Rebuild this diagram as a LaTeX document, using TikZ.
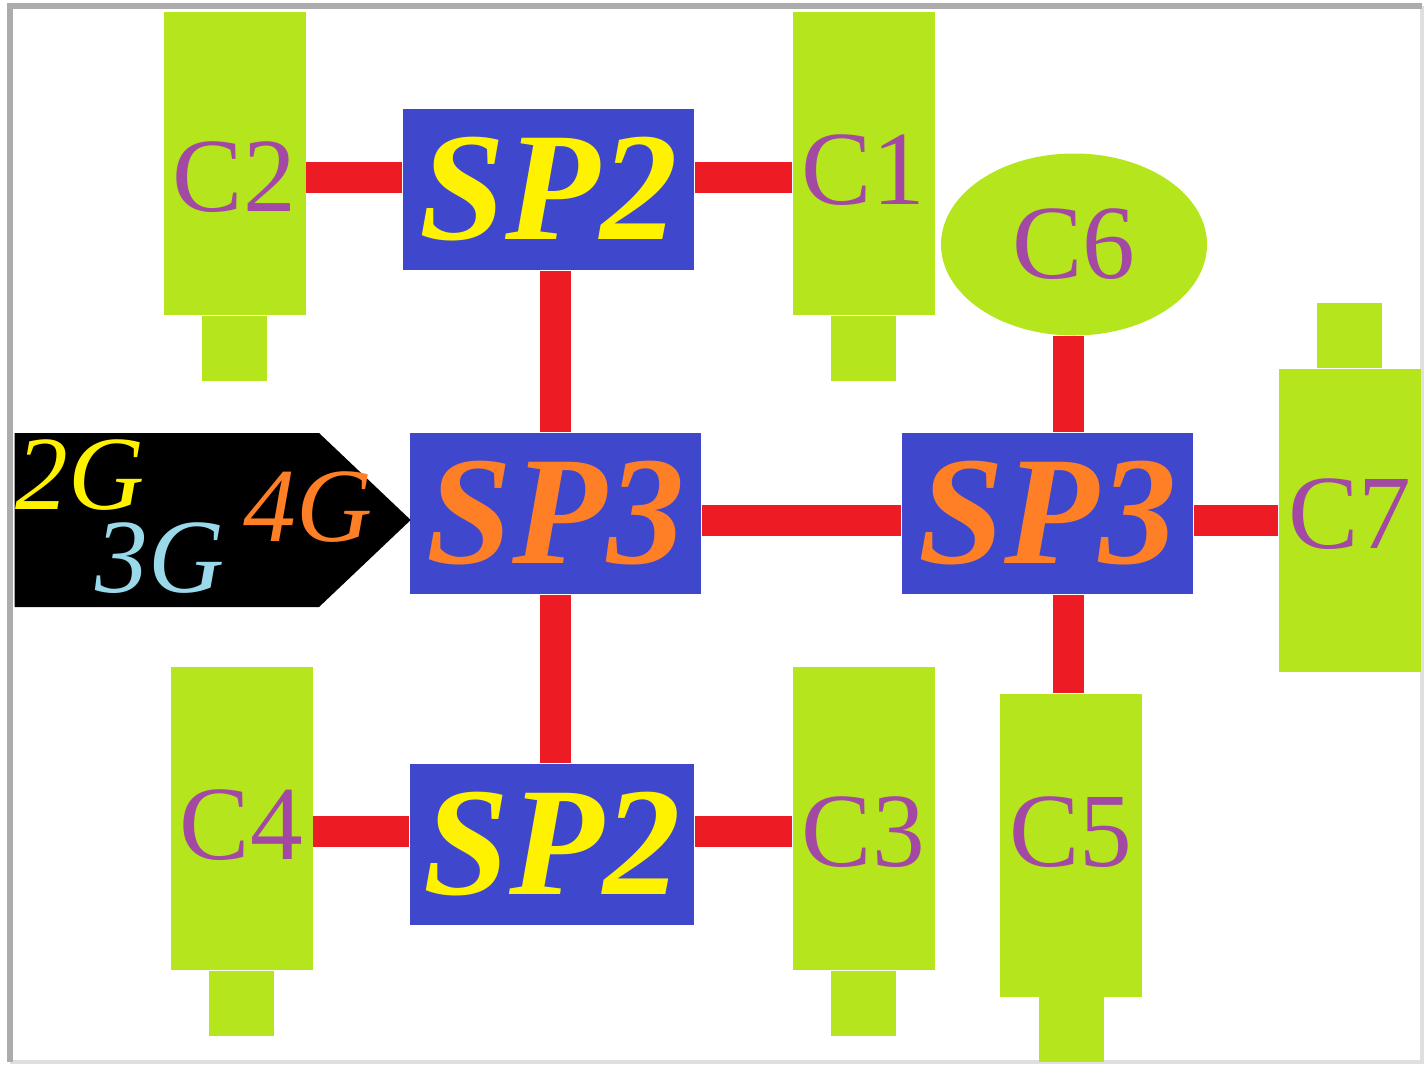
\documentclass[tikz,border=0pt]{standalone}
\usepackage{fontspec}
\setmainfont{Liberation Serif}
\usepackage{xcolor}
\usepackage{tikz}
\usetikzlibrary{shapes.geometric,shapes.symbols}

\definecolor{lime}{HTML}{B5E61D}
\definecolor{spblue}{HTML}{3F48CC}
\definecolor{linkred}{HTML}{ED1C24}
\definecolor{plum}{HTML}{A349A4}
\definecolor{gyellow}{HTML}{FFF200}
\definecolor{gorange}{HTML}{FF7F27}
\definecolor{gblue}{HTML}{99D9EA}

\begin{document}
\begin{tikzpicture}[
    cbox/.style={fill=lime,inner sep=0pt,minimum width=1.42cm,minimum height=3.03cm},
    cname/.style={text=plum,inner sep=0pt,font=\fontsize{30}{30}\selectfont},
    spbox/.style={fill=spblue,inner sep=0pt,minimum width=2.91cm,minimum height=1.61cm,
        font=\fontsize{44}{44}\selectfont\bfseries\itshape},
    gname/.style={inner sep=0pt,font=\fontsize{30}{30}\selectfont\itshape},
    link/.style={draw=linkred,line width=0.31cm}]
        \useasboundingbox (0,0) rectangle (14.24,10.64);
        \draw [gray!25,line width=0.04cm] (0.10,0.02) -- (14.22,0.02) -- (14.22,10.58);
        \draw [gray!65,line width=0.06cm] (0.10,0.02) -- (0.10,10.58) -- (14.22,10.58);
        % clients
        \node [cbox,label={[cname,yshift=-1.35mm]center:C2}] (c2) at (2.345,9.005) {};
        \node [cbox,label={[cname,yshift=-0.65mm]center:C1}] (c1) at (8.635,9.005) {};
        \node [cbox,label={[cname,yshift=-0.65mm]center:C4}] (c4) at (2.415,2.455) {};
        \node [cbox,label={[cname,yshift=-1.35mm]center:C3}] (c3) at (8.635,2.455) {};
        \node [cbox,label={[cname,yshift=1.3mm]center:C5}] (c5) at (10.71,2.19) {};
        \node [cbox,label={[cname,yshift=0.6mm]center:C7}] (c7) at (13.495,5.44) {};
        \node [ellipse,fill=lime,inner sep=0pt,minimum width=2.66cm,minimum height=1.82cm,
            cname] (c6) at (10.74,8.195) {C6};
        \foreach \c in {c2,c1,c4,c3,c5}
            \fill [lime] ([xshift=-0.325cm]\c.south) rectangle +(0.65,-0.65);
        \fill [lime] ([xshift=-0.325cm]c7.north) rectangle +(0.65,0.65);
        % service points
        \node [spbox,text=gyellow] (sp2a) at (5.485,8.745) {SP2};
        \node [spbox,text=gorange] (sp3a) at (5.555,5.505) {SP3};
        \node [spbox,text=gorange] (sp3b) at (10.475,5.505) {SP3};
        \node [spbox,text=gyellow,minimum width=2.84cm] (sp2b) at (5.52,2.195) {SP2};
        % network generations
        \node [signal,signal to=east,signal pointer angle=87,fill=black,inner sep=0pt,
            minimum width=3.96cm,minimum height=1.74cm,anchor=west] (net) at (0.14,5.44) {};
        \node [gname,text=gyellow] (g2) at (0.80,5.89) {2G};
        \node [gname,text=gblue] (g3) at (1.60,5.06) {3G};
        \node [gname,text=gorange] (g4) at (3.08,5.57) {4G};
        % links
        \draw [link] ([yshift=1.25mm]sp2a.west) -- ([yshift=1.25mm]sp2a.west -| c2.east);
        \draw [link] ([yshift=1.25mm]sp2a.east) -- ([yshift=1.25mm]sp2a.east -| c1.west);
        \draw [link] (sp3a.north) -- (sp3a.north |- sp2a.south);
        \draw [link] (sp3a.south) -- (sp3a.south |- sp2b.north);
        \draw [link] ([yshift=-0.65mm]sp3a.east) -- ([yshift=-0.65mm]sp3b.west);
        \draw [link] (c7.west) -- (c7.west -| sp3b.east);
        \draw [link] ([xshift=-0.6mm]c6.south) -- ([xshift=-0.6mm]c6.south |- sp3b.north);
        \draw [link] ([xshift=-0.3mm]c5.north) -- ([xshift=-0.3mm]c5.north |- sp3b.south);
        \draw [link] ([yshift=1.35mm]sp2b.west) -- ([yshift=1.35mm]sp2b.west -| c4.east);
        \draw [link] ([yshift=1.35mm]sp2b.east) -- ([yshift=1.35mm]sp2b.east -| c3.west);
\end{tikzpicture}
\end{document}
